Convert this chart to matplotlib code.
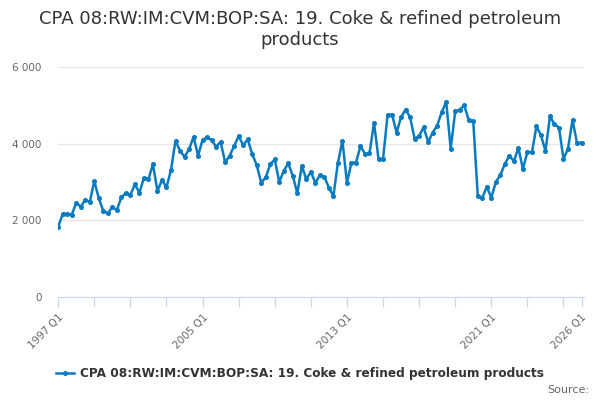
import matplotlib.pyplot as plt
from matplotlib.ticker import FuncFormatter

# quarters 1997 Q1 .. 2026 Q1
quarters = [f'{y} Q{q}' for y in range(1997, 2027) for q in range(1, 5)][:117]
values = [1833, 2164, 2172, 2146, 2459, 2355, 2538, 2477, 3025, 2573,
          2242, 2182, 2347, 2269, 2600, 2712, 2660, 2939, 2720, 3111,
          3077, 3460, 2764, 3051, 2860, 3311, 4076, 3815, 3658, 3851,
          4180, 3685, 4102, 4164, 4094, 3920, 4050, 3512, 3685, 3938,
          4198, 3963, 4111, 3729, 3442, 2981, 3121, 3460, 3590, 2999,
          3294, 3486, 3155, 2704, 3424, 3069, 3268, 2973, 3181, 3137,
          2851, 2634, 3503, 4076, 2981, 3503, 3503, 3938, 3737, 3746,
          4545, 3600, 3600, 4740, 4760, 4290, 4690, 4890, 4690, 4130,
          4200, 4430, 4040, 4290, 4470, 4820, 5090, 3870, 4840, 4890,
          5000, 4610, 4580, 2630, 2590, 2880, 2590, 3000, 3180, 3470,
          3690, 3540, 3890, 3340, 3780, 3770, 4450, 4220, 3810, 4710,
          4510, 4420, 3600, 3870, 4620, 4010, 4030]
label_quarters = ['1997 Q1', '2005 Q1', '2013 Q1', '2021 Q1', '2026 Q1']
series_name = 'CPA 08:RW:IM:CVM:BOP:SA: 19. Coke & refined petroleum products'

fig = plt.figure(figsize=(6, 4), dpi=100)
ax = fig.add_axes([0.097, 0.2575, 0.876, 0.575])

x = list(range(len(quarters)))
ax.plot(x, values, color='#0a7bc1', lw=1.8, marker='o', ms=2.6, label=series_name)

ax.set_xlim(0, len(quarters) - 0.5)
ax.set_ylim(0, 6000)
ax.set_yticks([0, 2000, 4000, 6000])
ax.yaxis.set_major_formatter(FuncFormatter(lambda v, p: f'{int(v):,}'.replace(',', ' ')))
ax.tick_params(axis='y', length=0, labelsize=7.5, labelcolor='#666666', pad=12)
ax.grid(axis='y', color='#e6e6e6', lw=0.9)
ax.set_axisbelow(True)

minor = list(range(0, len(quarters), 8)) + [len(quarters) - 1]
ax.set_xticks(minor, minor=True)
ax.set_xticks([quarters.index(q) for q in label_quarters])
ax.set_xticklabels(label_quarters, rotation=45, ha='right', rotation_mode='anchor',
                   fontsize=7.5, color='#666666')
ax.tick_params(axis='x', which='both', length=7, color='#ccd6eb', width=0.9, pad=4)

for s in ['top', 'right', 'left']:
    ax.spines[s].set_visible(False)
ax.spines['bottom'].set_color('#ccd6eb')

fig.suptitle('CPA 08:RW:IM:CVM:BOP:SA: 19. Coke & refined petroleum\nproducts',
             x=0.5, y=0.975, fontsize=13, color='#333333')

fig.legend(loc='center', bbox_to_anchor=(0.5, 0.066), frameon=False,
           prop={'size': 8.7, 'weight': 'bold'}, labelcolor='#333333',
           handlelength=1.5, handletextpad=0.5)
fig.text(0.982, 0.025, 'Source:', ha='right', va='center', fontsize=8, color='#666666')

fig.savefig('out.png', dpi=100)
